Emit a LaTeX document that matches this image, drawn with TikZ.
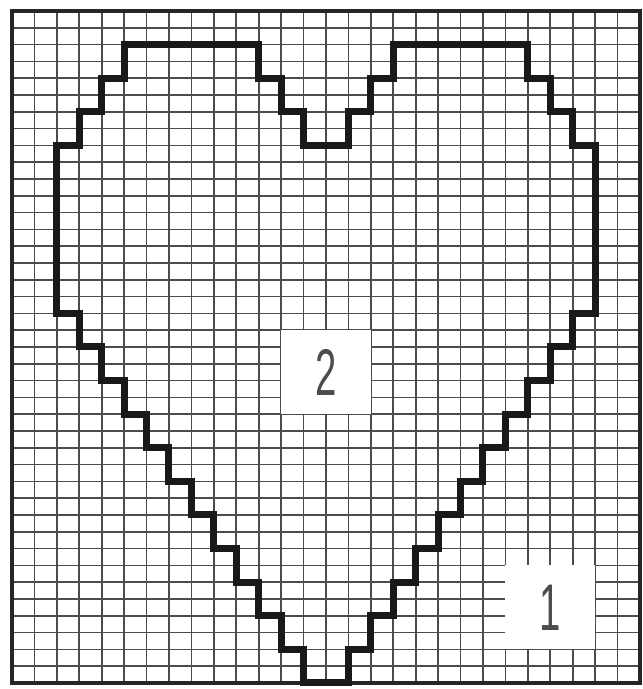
\documentclass[tikz,border=0pt]{standalone}
\usepackage{fontspec}
\newfontfamily\digitfont{Liberation Sans}
\usepackage{xcolor}

\begin{document}
\begin{tikzpicture}[x=11.215pt, y=-8.4pt,
    gridline/.style={draw=black!70, line width=0.8pt},
    frame/.style={draw=black!85, line width=2pt},
    heart/.style={draw=black!90, line width=3.5pt, line join=miter},
    labelbox/.style={fill=white, inner sep=0pt, minimum width=44.86pt,
      minimum height=42pt, text=black!70,
      font=\digitfont\fontsize{33}{33}\selectfont}]
  \useasboundingbox (-0.535,-0.655) rectangle (28.09,40.36);
  % squared paper
  \foreach \i in {1,...,27}
    \draw[gridline] (\i,0) -- (\i,40);
  \foreach \j in {1,...,39}
    \draw[gridline] (0,\j) -- (28,\j);
  % number boxes
  \node[labelbox] (two) at (14,21.5) {\scalebox{0.58}[1]{2}};
  \node[labelbox] (one) at (24,35.5) {\scalebox{0.58}[1]{1}};
  \draw[frame] (0,0) rectangle (28,40);
  % stepped heart
  \draw[heart] (2,8) -- (2,18)
    \foreach \c in {3,...,13} { -| (\c,{2*\c+14}) }
    -- (15,40)
    \foreach \c in {16,...,26} { |- (\c,{70-2*\c}) }
    -- (26,8) -| (25,6) -| (24,4) -| (23,2) -- (17,2)
    |- (16,4) |- (15,6) |- (13,8) |- (12,6) |- (11,4)
    |- (5,2) |- (4,4) |- (3,6) |- (2,8) -- cycle;
\end{tikzpicture}
\end{document}
